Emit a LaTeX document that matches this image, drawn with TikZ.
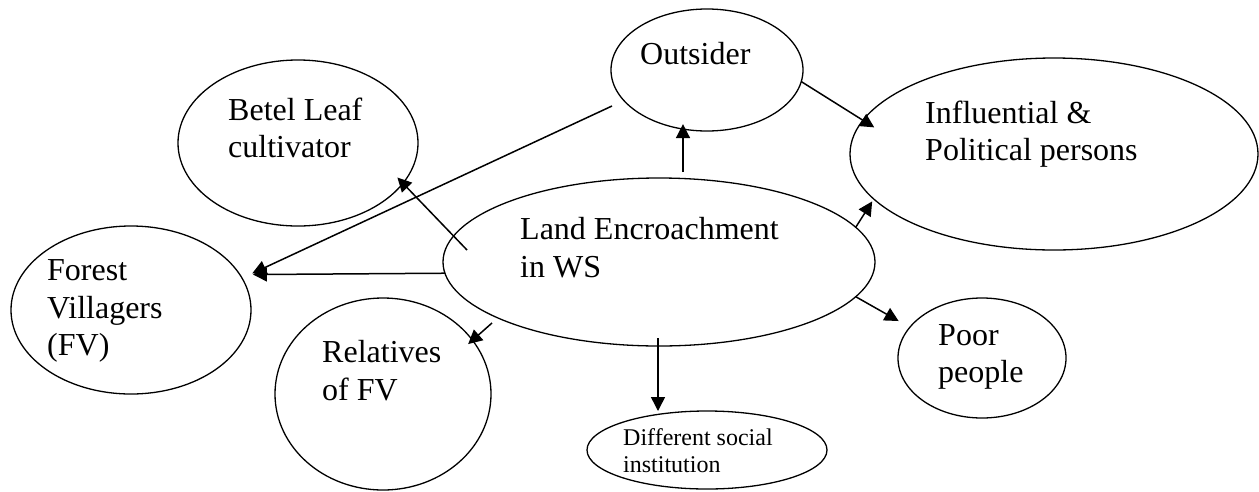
\documentclass[tikz,border=0pt]{standalone}
\usepackage{fontspec}
\setmainfont{Liberation Serif}
\usetikzlibrary{shapes.geometric,arrows.meta}
\begin{document}
\begin{tikzpicture}[x=1pt,y=-1pt,
  bubble/.style={draw,ellipse,line width=1.3pt,inner sep=0pt,outer sep=0pt},
  txt/.style={anchor=base west,inner sep=0pt,font=\fontsize{32}{38}\selectfont},
  smalltxt/.style={anchor=base west,inner sep=0pt,font=\fontsize{24}{27}\selectfont},
  arr/.style={line width=1.5pt,-{Triangle[length=14pt,width=14pt]}}]
\useasboundingbox (0,0) rectangle (1259,491);

% ellipses
\node[bubble,minimum width=192pt,minimum height=122pt] (outsider) at (707,70) {};
\node[bubble,minimum width=240pt,minimum height=166pt] (betel) at (298,143) {};
\node[bubble,minimum width=408pt,minimum height=192pt] (influential) at (1054,154) {};
\node[bubble,minimum width=432pt,minimum height=168pt] (land) at (659,262) {};
\node[bubble,minimum width=240pt,minimum height=168pt] (forest) at (131,310) {};
\node[bubble,minimum width=216pt,minimum height=192pt] (relatives) at (383,394) {};
\node[bubble,minimum width=168pt,minimum height=120pt] (poor) at (982,358) {};
\node[bubble,minimum width=240pt,minimum height=78pt] (different) at (707,450) {};

% labels, one node per line
\node[txt] (outsider-l1) at (640,64) {Outsider};
\node[txt] (betel-l1) at (228,120) {Betel Leaf};
\node[txt] (betel-l2) at (228,157) {cultivator};
\node[txt] (infl-l1) at (925,123) {Influential \&};
\node[txt] (infl-l2) at (925,160) {Political persons};
\node[txt] (land-l1) at (520,239) {Land Encroachment};
\node[txt] (land-l2) at (520,277) {in WS};
\node[txt] (forest-l1) at (47,280) {Forest};
\node[txt] (forest-l2) at (47,318) {Villagers};
\node[txt] (forest-l3) at (47,355) {(FV)};
\node[txt] (rel-l1) at (322,362) {Relatives};
\node[txt] (rel-l2) at (322,400) {of FV};
\node[txt] (poor-l1) at (938,345) {Poor};
\node[txt] (poor-l2) at (938,382) {people};
\node[smalltxt] (diff-l1) at (623,445) {Different social};
\node[smalltxt] (diff-l2) at (623,472) {institution};

% free starting points of arrows
\coordinate (up-s) at (683,172);
\coordinate (cut-s) at (612,106);
\coordinate (betel-s) at (467,250);
\coordinate (rel-s) at (492,323);
\coordinate (inst-s) at (658,338);

% arrows
\draw[arr,shorten >=-5pt] (up-s) -- (up-s |- outsider.248);
\draw[arr,shorten >=-13.3pt] (outsider.-7.3) -- (influential.170.5);
\draw[arr,shorten >=11.2pt] (cut-s) -- (forest.16.25);
\draw[arr,shorten >=13.1pt] (land.183) -- (forest.18.83);
\draw[arr,shorten >=-8pt] (betel-s) -- (betel.-21.26);
\draw[arr,shorten >=2.9pt] (land.10.85) -- (influential.194.8);
\draw[arr,shorten >=12.8pt] (land.-10.57) -- (poor.157.5);
\draw[arr,shorten >=-5.8pt] (rel-s) -- (relatives.31.04);
\draw[arr] (inst-s) -- (inst-s |- different.north);
\end{tikzpicture}
\end{document}
